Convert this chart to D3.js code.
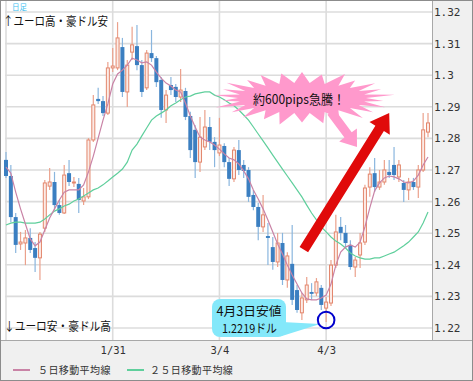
<!DOCTYPE html>
<html><head><meta charset="utf-8">
<script src="https://cdn.jsdelivr.net/npm/d3@7"></script>
<style>body{margin:0;background:#fff}svg{display:block}</style>
</head><body>
<svg id="c" width="473" height="381"></svg>
<script>
// ---------- DATA ----------
const dates = ["1/1","1/2","1/3","1/4","1/7","1/8","1/9","1/10","1/11","1/14","1/15","1/16","1/17","1/18","1/21","1/22","1/23","1/24","1/25","1/28","1/29","1/30","1/31",
"2/1","2/4","2/5","2/6","2/7","2/8","2/11","2/12","2/13","2/14","2/15","2/18","2/19","2/20","2/21","2/22","2/25","2/26","2/27","2/28",
"3/1","3/4","3/5","3/6","3/7","3/8","3/11","3/12","3/13","3/14","3/15","3/18","3/19","3/20","3/21","3/22","3/25","3/26","3/27","3/28","3/29",
"4/1","4/2","4/3","4/4","4/5","4/8","4/9","4/10","4/11","4/12","4/15","4/16","4/17","4/18","4/19","4/22","4/23","4/24","4/25","4/26","4/29","4/30",
"5/1","5/2"];
const open = [1.2732,1.2681,1.2551,1.2466,1.2469,1.2485,1.2453,1.2422,1.2516,1.2649,
1.2662,1.2589,1.2564,1.2690,1.2659,1.2656,1.2602,1.2615,1.2795,1.2925,
1.2918,1.2880,1.3023,1.3023,1.3089,1.2947,1.3073,1.3092,1.3032,1.2960,
1.3070,1.3054,1.2985,1.2890,1.2969,1.2963,1.2931,1.2950,1.2871,1.2827,
1.2725,1.2773,1.2836,1.2789,1.2754,1.2776,1.2725,1.2672,1.2763,1.2716,
1.2700,1.2621,1.2583,1.2520,1.2491,1.2456,1.2409,1.2469,1.2352,1.2403,
1.2320,1.2248,1.2289,1.2314,1.2311,1.2327,1.2263,1.2279,1.2399,1.2520,
1.2501,1.2463,1.2393,1.2431,1.2472,1.2646,1.2690,1.2646,1.2662,1.2694,
1.2716,1.2678,1.2659,1.2637,1.2662,1.2646,1.2700,1.2820];
const high = [1.2757,1.2716,1.2564,1.2504,1.2510,1.2516,1.2472,1.2504,1.2668,1.2706,
1.2694,1.2605,1.2716,1.2732,1.2678,1.2675,1.2643,1.2801,1.2937,1.2960,
1.2934,1.3042,1.3086,1.3168,1.3118,1.3048,1.3153,1.3159,1.3048,1.3080,
1.3143,1.3061,1.2994,1.2953,1.2994,1.2972,1.3020,1.2960,1.2884,1.2842,
1.2868,1.2890,1.2868,1.2804,1.2865,1.2785,1.2738,1.2773,1.2795,1.2732,
1.2709,1.2637,1.2596,1.2621,1.2532,1.2488,1.2501,1.2501,1.2440,1.2526,
1.2336,1.2311,1.2361,1.2342,1.2358,1.2336,1.2298,1.2415,1.2558,1.2551,
1.2526,1.2478,1.2425,1.2501,1.2653,1.2709,1.2738,1.2700,1.2732,1.2732,
1.2773,1.2732,1.2668,1.2675,1.2675,1.2716,1.2880,1.2880];
const low = [1.2675,1.2535,1.2437,1.2447,1.2399,1.2437,1.2377,1.2352,1.2504,1.2637,
1.2573,1.2558,1.2561,1.2649,1.2646,1.2564,1.2589,1.2608,1.2789,1.2909,
1.2871,1.2874,1.3010,1.3016,1.2931,1.2899,1.3048,1.3016,1.2931,1.2953,
1.3042,1.2963,1.2865,1.2849,1.2937,1.2915,1.2915,1.2858,1.2738,1.2675,
1.2694,1.2763,1.2763,1.2709,1.2744,1.2709,1.2649,1.2662,1.2684,1.2675,
1.2599,1.2573,1.2478,1.2504,1.2399,1.2384,1.2393,1.2336,1.2327,1.2273,
1.2248,1.2225,1.2279,1.2289,1.2301,1.2257,1.2219,1.2270,1.2390,1.2478,
1.2453,1.2384,1.2361,1.2390,1.2463,1.2615,1.2630,1.2637,1.2653,1.2675,
1.2668,1.2662,1.2599,1.2605,1.2637,1.2611,1.2694,1.2804];
const close = [1.2681,1.2551,1.2463,1.2472,1.2485,1.2447,1.2422,1.2497,1.2659,1.2662,
1.2589,1.2564,1.2684,1.2662,1.2662,1.2605,1.2615,1.2795,1.2906,1.2918,
1.2880,1.3023,1.3029,1.3118,1.2947,1.3032,1.3096,1.3032,1.2947,1.3070,
1.3054,1.2978,1.2890,1.2937,1.2953,1.2931,1.2953,1.2868,1.2763,1.2725,
1.2804,1.2836,1.2789,1.2763,1.2779,1.2725,1.2672,1.2763,1.2700,1.2697,
1.2615,1.2583,1.2520,1.2558,1.2485,1.2409,1.2469,1.2352,1.2428,1.2289,
1.2257,1.2295,1.2336,1.2308,1.2346,1.2273,1.2282,1.2399,1.2504,1.2501,
1.2469,1.2393,1.2415,1.2469,1.2643,1.2687,1.2646,1.2662,1.2700,1.2684,
1.2684,1.2716,1.2637,1.2662,1.2646,1.2700,1.2827,1.2849];
const ma5 = [1.2709,1.2690,1.2630,1.2577,1.2529,1.2482,1.2460,1.2472,1.2510,1.2548,
1.2577,1.2605,1.2630,1.2637,1.2637,1.2637,1.2653,1.2694,1.2744,1.2801,
1.2858,1.2909,1.2972,1.3004,1.3016,1.3032,1.3054,1.3048,1.3039,1.3042,
1.3032,1.3010,1.2991,1.2975,1.2966,1.2953,1.2947,1.2912,1.2871,1.2836,
1.2804,1.2795,1.2789,1.2779,1.2766,1.2751,1.2738,1.2732,1.2719,1.2697,
1.2672,1.2637,1.2608,1.2577,1.2542,1.2504,1.2466,1.2434,1.2399,1.2368,
1.2339,1.2311,1.2292,1.2289,1.2289,1.2295,1.2304,1.2339,1.2399,1.2440,
1.2456,1.2463,1.2456,1.2472,1.2520,1.2580,1.2634,1.2659,1.2675,1.2681,
1.2678,1.2672,1.2662,1.2659,1.2665,1.2684,1.2716,1.2741];
const ma25 = [1.2526,1.2532,1.2535,1.2535,1.2532,1.2532,1.2532,1.2535,1.2545,1.2558,
1.2570,1.2577,1.2586,1.2592,1.2602,1.2608,1.2618,1.2627,1.2637,1.2643,
1.2653,1.2665,1.2678,1.2690,1.2703,1.2725,1.2763,1.2782,1.2808,1.2833,
1.2858,1.2871,1.2880,1.2890,1.2903,1.2912,1.2922,1.2931,1.2934,1.2941,
1.2944,1.2947,1.2947,1.2937,1.2931,1.2922,1.2912,1.2903,1.2890,1.2874,
1.2858,1.2836,1.2814,1.2792,1.2770,1.2747,1.2725,1.2703,1.2681,1.2659,
1.2637,1.2615,1.2589,1.2564,1.2542,1.2520,1.2504,1.2488,1.2475,1.2466,
1.2453,1.2437,1.2428,1.2422,1.2418,1.2418,1.2422,1.2422,1.2428,1.2434,
1.2440,1.2450,1.2460,1.2472,1.2488,1.2504,1.2532,1.2567];
const yTicks = [1.32,1.31,1.30,1.29,1.28,1.27,1.26,1.25,1.24,1.23,1.22];
const yTickLabels = ["1.32","1.31","1.3","1.29","1.28","1.27","1.26","1.25","1.24","1.23","1.22"];
const xTicks = ["1/31","3/4","4/3"];
const legendNames = ["５日移動平均線","２５日移動平均線"];
const lowDate = "4/3", lowValue = 1.2219;

// ---------- SETUP ----------
const W = 473, H = 381;
const svg = d3.select("#c");
const x = d3.scalePoint().domain(dates).range([6, 428]);
const y = d3.scaleLinear().domain([1.22, 1.32]).range([328, 12]);
const xi = i => x(dates[0]) + i * x.step();

const C = {
  upStroke:"#e3876d", upFill:"#fcebe6", upWick:"#eba18c",
  dn:"#3b7fc1", dnWick:"#8ab6de",
  ma5:"#c983a6", ma25:"#5fcf9c", grid:"#dcdcdc"
};

svg.append("rect").attr("width",W).attr("height",H).attr("fill","#fff");
svg.append("rect").attr("x",432).attr("y",0).attr("width",W-432).attr("height",H).attr("fill","#f0f0f0");
svg.append("rect").attr("x",0).attr("y",340).attr("width",W).attr("height",H-340).attr("fill","#f0f0f0");

// grid
const grid = svg.append("g");
grid.selectAll("line.h").data(yTicks).join("line").attr("class","h")
  .attr("x1",5).attr("x2",432).attr("y1",d=>y(d)).attr("y2",d=>y(d))
  .attr("stroke",C.grid).attr("stroke-width",1.6);
grid.selectAll("line.v").data([dates[0]].concat(xTicks)).join("line").attr("class","v")
  .attr("x1",d=>x(d)).attr("x2",d=>x(d)).attr("y1",0).attr("y2",340)
  .attr("stroke",C.grid).attr("stroke-width",1.6);

// candles
const idx = d3.range(dates.length);
const cg = svg.append("g");
cg.selectAll("line.w").data(idx).join("line").attr("class","w")
  .attr("x1",i=>x(dates[i])).attr("x2",i=>x(dates[i]))
  .attr("y1",i=>y(high[i])).attr("y2",i=>y(low[i]))
  .attr("stroke",i=>close[i]>=open[i]?C.upWick:C.dnWick).attr("stroke-width",1.2);
cg.selectAll("rect.dn").data(idx.filter(i=>close[i]<open[i])).join("rect").attr("class","dn")
  .attr("x",i=>x(dates[i])-2).attr("width",4)
  .attr("y",i=>y(open[i])).attr("height",i=>Math.max(1.5,y(close[i])-y(open[i])))
  .attr("fill",C.dn);
cg.selectAll("rect.up").data(idx.filter(i=>close[i]>=open[i])).join("rect").attr("class","up")
  .attr("x",i=>x(dates[i])-1.5).attr("width",3)
  .attr("y",i=>y(close[i])).attr("height",i=>Math.max(1,y(open[i])-y(close[i])))
  .attr("fill",C.upFill).attr("stroke",C.upStroke).attr("stroke-width",1);

// moving averages
const line = arr => d3.line().x((d,i)=>x(dates[i])).y(d=>y(d))(arr);
svg.append("path").attr("d",line(ma25)).attr("fill","none").attr("stroke",C.ma25).attr("stroke-width",1.2);
svg.append("path").attr("d",line(ma5)).attr("fill","none").attr("stroke",C.ma5).attr("stroke-width",1.2);

// axes
const ya = svg.append("g").attr("transform","translate(434,0)")
  .call(d3.axisRight(y).tickValues(yTicks).tickSize(0).tickPadding(0).tickFormat((d,i)=>yTickLabels[i]));
ya.select(".domain").remove();
ya.selectAll("text").attr("font-family","'DejaVu Sans Mono', monospace").attr("font-size",11).attr("fill","#333");

const xa = svg.append("g").attr("transform","translate(0,347)")
  .call(d3.axisBottom(x).tickValues(xTicks).tickSize(0).tickPadding(0));
xa.select(".domain").remove();
xa.selectAll("text").attr("font-family","'DejaVu Sans Mono', monospace").attr("font-size",10.5).attr("fill","#333");

// frame lines
svg.append("line").attr("x1",432.5).attr("x2",432.5).attr("y1",0).attr("y2",340).attr("stroke","#a8a8a8");
svg.append("line").attr("x1",0).attr("x2",W).attr("y1",340.5).attr("y2",340.5).attr("stroke","#a8a8a8");
svg.append("rect").attr("x",0.5).attr("y",0.5).attr("width",W-1).attr("height",H-1).attr("fill","none").attr("stroke","#8c8c8c");

// legend
const lg = [{x:13, tx:38, c:C.ma5, t:legendNames[0]},{x:127, tx:150, c:C.ma25, t:legendNames[1]}];
lg.forEach(l=>{
  svg.append("line").attr("x1",l.x).attr("x2",l.x+17).attr("y1",370).attr("y2",370).attr("stroke",l.c).attr("stroke-width",2);
  svg.append("text").attr("x",l.tx).attr("y",374).attr("font-family","'Noto Sans CJK JP'").attr("font-size",10)
    .attr("letter-spacing",0.4).attr("fill","#333").text(l.t);
});

// texts
const jp = "'Noto Sans CJK JP', sans-serif";
svg.append("text").attr("x",12).attr("y",10).attr("font-family",jp).attr("font-size",7.5).attr("fill","#3cc0f0").text("日足");
svg.append("text").attr("x",3).attr("y",26).attr("font-family",jp).attr("font-size",12).attr("fill","#111")
  .attr("textLength",105).attr("lengthAdjust","spacingAndGlyphs").text("↑ユーロ高・豪ドル安");
svg.append("text").attr("x",4).attr("y",331).attr("font-family",jp).attr("font-size",12).attr("fill","#111")
  .attr("textLength",107).attr("lengthAdjust","spacingAndGlyphs").text("↓ユーロ安・豪ドル高");

// block arrow helper
function blockArrow(x0,y0,x1,y1,sw,hw,hl){
  const dx=x1-x0, dy=y1-y0, L=Math.hypot(dx,dy), ux=dx/L, uy=dy/L, px=-uy, py=ux;
  const bx=x1-ux*hl, by=y1-uy*hl;
  return [[x0+px*sw/2,y0+py*sw/2],[bx+px*sw/2,by+py*sw/2],[bx+px*hw/2,by+py*hw/2],[x1,y1],
          [bx-px*hw/2,by-py*hw/2],[bx-px*sw/2,by-py*sw/2],[x0-px*sw/2,y0-py*sw/2]];
}
const poly = pts => "M"+pts.map(p=>p[0].toFixed(1)+","+p[1].toFixed(1)).join("L")+"Z";

// red arrow
svg.append("path").attr("d",poly(blockArrow(xi(61.4),y(1.2448),xi(79),y(1.2880),10,24,18))).attr("fill","#e00a0a");

// pink starburst
const bcx=302, bcy=98, N=26;
const spikeVar=[1,0.93,1.04,0.9,1,0.95,1.05,0.92,1,0.97,1.03,0.9,1,0.94,1.05,0.92,1,0.96,1.04,0.9,1,0.95,1.03,0.93,1,0.97];
const pts=[];
for(let k=0;k<2*N;k++){
  const a=Math.PI*k/N - Math.PI/2;
  const outer = k%2===0;
  const f = outer ? spikeVar[(k/2)%N] : 1;
  const rx = outer ? 89*f : 64, ry = outer ? 26*f : 15;
  pts.push([bcx+rx*Math.cos(a), bcy+ry*Math.sin(a)]);
}
svg.append("path").attr("d",poly(pts)).attr("fill","#ff99cc");
svg.append("path").attr("d",poly(blockArrow(331,112,357,147,9,22,15))).attr("fill","#ff99cc");
svg.append("text").attr("x",299).attr("y",104).attr("text-anchor","middle").attr("font-family",jp).attr("font-size",13)
  .attr("fill","#111").attr("textLength",92).attr("lengthAdjust","spacingAndGlyphs").text("約600pips急騰！");

// cyan callout
const cx0 = x(lowDate), cy0 = y(lowValue)-2;
svg.append("path").attr("d",poly([[282,322],[cx0-6,cy0+4],[282,336]])).attr("fill","#84e8fa");
svg.append("rect").attr("x",212).attr("y",299).attr("width",74).attr("height",38).attr("rx",8).attr("fill","#84e8fa");
svg.append("text").attr("x",249).attr("y",316).attr("text-anchor","middle").attr("font-family",jp).attr("font-size",12.5)
  .attr("fill","#111").attr("textLength",65).attr("lengthAdjust","spacingAndGlyphs").text("4月3日安値");
svg.append("text").attr("x",249.5).attr("y",333).attr("text-anchor","middle").attr("font-family",jp).attr("font-size",12)
  .attr("fill","#111").attr("textLength",55).attr("lengthAdjust","spacingAndGlyphs").text("1.2219ドル");
// blue circle at the low
svg.append("circle").attr("cx",cx0).attr("cy",cy0).attr("r",8.3).attr("fill","none").attr("stroke","#0000cc").attr("stroke-width",2);
</script>
</body></html>
